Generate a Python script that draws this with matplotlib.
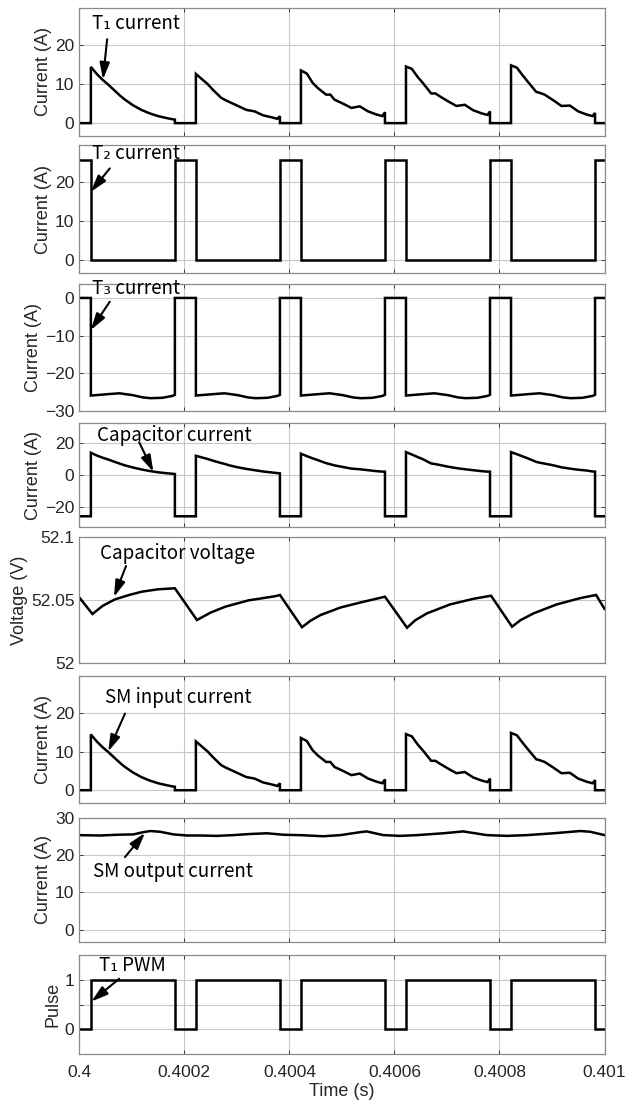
import numpy as np
import matplotlib.pyplot as plt

plt.rcParams['font.family'] = ['Liberation Sans', 'DejaVu Sans']
ANN_FONT = ['Noto Sans CJK SC', 'DejaVu Sans']

# ---- switching instants, ms after t = 0.4 s ----
on_ms = [0.022, 0.222, 0.422, 0.622, 0.822]
off_ms = [0.182, 0.382, 0.582, 0.782, 0.982]

# sample positions inside each on-interval (fraction of on-time)
frac = [0, 0.07, 0.14, 0.2, 0.3, 0.35, 0.4, 0.5, 0.6, 0.7, 0.8, 0.9, 0.97, 1.0]

# T1 current (= SM input current) during each on-interval (A)
i_t1_1 = [14.4, 12.6, 11.1, 10.0, 8.0, 7.0, 6.1, 4.6, 3.4, 2.5, 1.8, 1.3, 1.0, 0.9]
i_t1_2 = [12.6, 11.3, 10.0, 8.6, 6.5, 5.9, 5.4, 4.4, 3.4, 3.0, 2.0, 1.5, 1.1, 1.8]
i_t1_3 = [13.5, 12.7, 10.3, 9.0, 7.3, 7.3, 6.0, 5.0, 3.9, 4.3, 3.0, 2.2, 1.8, 2.8]
i_t1_4 = [14.5, 13.9, 11.8, 10.3, 7.6, 7.6, 6.9, 5.6, 4.4, 4.7, 3.3, 2.5, 2.1, 3.0]
i_t1_5 = [14.8, 14.2, 12.2, 10.6, 8.0, 7.7, 7.3, 5.9, 4.4, 4.5, 3.0, 2.2, 1.8, 2.6]

# capacitor current during each on-interval (A) and its off level
i_c_1 = [13.9, 12.2, 10.8, 9.8, 7.9, 7.0, 6.1, 4.7, 3.5, 2.5, 1.7, 1.1, 0.8, 0.6]
i_c_2 = [12.0, 11.0, 10.0, 9.0, 7.5, 6.8, 6.0, 4.8, 3.8, 3.0, 2.2, 1.6, 1.2, 1.0]
i_c_3 = [13.3, 11.8, 10.4, 9.3, 7.4, 6.7, 6.0, 5.0, 4.0, 3.6, 3.0, 2.4, 2.1, 2.1]
i_c_4 = [14.3, 12.8, 11.2, 9.9, 7.2, 6.8, 6.3, 5.2, 4.3, 3.6, 3.0, 2.4, 2.1, 2.1]
i_c_5 = [14.3, 13.0, 11.6, 10.4, 8.2, 7.6, 7.1, 6.1, 4.8, 4.0, 3.3, 2.8, 2.2, 2.1]
i_c_off = -25.8

# T2 current level while T1 is off (A)
i_t2_on = 25.7

# T3 current during on-interval (same shape every period)
t3_frac = [0, 0.22, 0.34, 0.5, 0.62, 0.71, 0.85, 0.97, 1.0]
i_t3 = [-25.9, -25.5, -25.3, -25.8, -26.4, -26.6, -26.5, -26.0, -25.7]

# capacitor voltage (V)
vc_ms = [0, 0.025, 0.045, 0.068, 0.095, 0.119, 0.150, 0.182, 0.224, 0.250, 0.278,
         0.322, 0.373, 0.382, 0.424, 0.440, 0.459, 0.497, 0.535, 0.582, 0.624,
         0.640, 0.662, 0.706, 0.751, 0.784, 0.824, 0.840, 0.865, 0.909, 0.954,
         0.984, 1.0]
vc = [52.052, 52.0389, 52.0455, 52.0505, 52.054, 52.0566, 52.0585, 52.0593, 52.0341,
      52.0400, 52.0447, 52.0497, 52.0530, 52.054, 52.0284, 52.0335, 52.038, 52.0440,
      52.0480, 52.0526, 52.028, 52.0340, 52.0394, 52.0465, 52.0510, 52.0534, 52.0288,
      52.0340, 52.0394, 52.0465, 52.0515, 52.054, 52.043]

# SM output current (A)
iout_ms = [0, 0.040, 0.071, 0.103, 0.122, 0.135, 0.154, 0.179, 0.205, 0.230, 0.262,
           0.293, 0.325, 0.357, 0.389, 0.420, 0.465, 0.497, 0.535, 0.547, 0.579,
           0.611, 0.643, 0.693, 0.731, 0.776, 0.814, 0.852, 0.903, 0.954, 0.973, 1.0]
iout = [25.4, 25.3, 25.5, 25.6, 26.2, 26.5, 26.3, 25.6, 25.3, 25.3, 25.2, 25.4, 25.7,
        25.9, 25.5, 25.4, 25.1, 25.4, 26.2, 26.4, 25.4, 25.2, 25.4, 25.9, 26.4, 25.4,
        25.2, 25.4, 25.9, 26.5, 26.3, 25.4]


def on_train(pulses, fr, off_level):
    t, y = [0.0], [off_level]
    for k, vals in enumerate(pulses):
        a, b = on_ms[k], off_ms[k]
        t += [a]
        y += [off_level]
        t += [a + f * (b - a) for f in fr]
        y += list(vals)
        t += [b]
        y += [off_level]
    t += [1.0]
    y += [off_level]
    return 0.4 + np.array(t) * 1e-3, np.array(y)


def off_train(level):
    t, y = [0.0], [level]
    for a, b in zip(on_ms, off_ms):
        t += [a, a, b, b]
        y += [level, 0, 0, level]
    t += [1.0]
    y += [level]
    return 0.4 + np.array(t) * 1e-3, np.array(y)


t1_x, t1_y = on_train([i_t1_1, i_t1_2, i_t1_3, i_t1_4, i_t1_5], frac, 0.0)
t2_x, t2_y = off_train(i_t2_on)
t3_x, t3_y = on_train([i_t3] * 5, t3_frac, 0.0)
c_x, c_y = on_train([i_c_1, i_c_2, i_c_3, i_c_4, i_c_5], frac, i_c_off)
pwm_x, pwm_y = on_train([[1, 1]] * 5, [0, 1], 0.0)
vc_x = 0.4 + np.array(vc_ms) * 1e-3
out_x = 0.4 + np.array(iout_ms) * 1e-3

W, H = 633, 1103
L, R = 79.3, 604.5
boxes = [(8, 136), (145, 273), (284, 411), (423, 527),
         (537, 663), (676, 803), (818, 942), (955, 1054)]

fig = plt.figure(figsize=(W / 100, H / 100), dpi=100)
axs = []
for top, bot in boxes:
    ax = fig.add_axes([L / W, 1 - bot / H, (R - L) / W, (bot - top) / H])
    axs.append(ax)

series = [(t1_x, t1_y), (t2_x, t2_y), (t3_x, t3_y), (c_x, c_y),
          (vc_x, vc), (t1_x, t1_y), (out_x, iout), (pwm_x, pwm_y)]
ylims = [(-3.3, 29.5), (-3.3, 29.5), (-30, 3.7), (-32.5, 32.5),
         (52, 52.1), (-3.3, 29.5), (-3.3, 30), (-0.5, 1.5)]
yticks = [[0, 10, 20], [0, 10, 20], [-30, -20, -10, 0], [-20, 0, 20],
          [52, 52.05, 52.1], [0, 10, 20], [0, 10, 20, 30], [0, 0.5, 1]]
ylabels = ['Current (A)'] * 4 + ['Voltage (V)', 'Current (A)', 'Current (A)', 'Pulse']
xt = [0.4, 0.4002, 0.4004, 0.4006, 0.4008, 0.401]

for i, ax in enumerate(axs):
    x, y = series[i]
    ax.plot(x, y, color='black', lw=1.8, solid_joinstyle='miter')
    ax.set_xlim(0.4, 0.401)
    ax.set_ylim(*ylims[i])
    ax.set_yticks(yticks[i])
    if i == 7:
        ax.set_yticklabels(['0', '', '1'])
    elif i == 4:
        ax.set_yticklabels(['52', '52.05', '52.1'])
    ax.set_xticks(xt)
    if i == 7:
        ax.set_xticklabels(['0.4', '0.4002', '0.4004', '0.4006', '0.4008', '0.401'])
        ax.set_xlabel('Time (s)', fontsize=13, color='#262626', labelpad=2)
    else:
        ax.set_xticklabels([])
    ax.set_ylabel(ylabels[i], fontsize=13, color='#262626', labelpad=2)
    ax.grid(True, color='#c8c8c8', lw=0.8)
    ax.tick_params(direction='in', top=True, right=True, length=3,
                   labelsize=12.5, colors='#262626', width=0.6)
    ax.tick_params(axis='x', pad=8)
    for s in ax.spines.values():
        s.set_color('#8a8a8a')
        s.set_linewidth(0.9)

arrow = dict(arrowstyle='-|>,head_width=0.3,head_length=1.0', color='black', lw=1.5,
             shrinkA=0, shrinkB=0)


def note(ax, text, tx, ty, hx, hy, ax_x, ax_y):
    ax.annotate('', xy=(0.4 + hx * 1e-3, hy), xytext=(0.4 + ax_x * 1e-3, ax_y),
                arrowprops=arrow)
    ax.text(0.4 + tx * 1e-3, ty, text, fontsize=13.5, family=ANN_FONT,
            ha='left', va='center', color='black')


note(axs[0], 'T\u2081 current', 0.024, 25.5, 0.045, 11.2, 0.053, 21.5)
note(axs[1], 'T\u2082 current', 0.024, 27.2, 0.022, 17.5, 0.058, 23.5)
note(axs[2], 'T\u2083 current', 0.024, 2.4, 0.022, -8.5, 0.058, -1.0)
note(axs[3], 'Capacitor current', 0.034, 25.0, 0.141, 2.0, 0.114, 20.5)
note(axs[4], 'Capacitor voltage', 0.040, 52.087, 0.066, 52.0524, 0.089, 52.077)
note(axs[5], 'SM input current', 0.048, 24.0, 0.055, 10.0, 0.087, 19.8)
note(axs[6], 'SM output current', 0.026, 15.5, 0.125, 26.0, 0.087, 19.5)
note(axs[7], 'T\u2081 PWM', 0.038, 1.28, 0.023, 0.56, 0.076, 1.02)

fig.savefig('out.png', dpi=100)
